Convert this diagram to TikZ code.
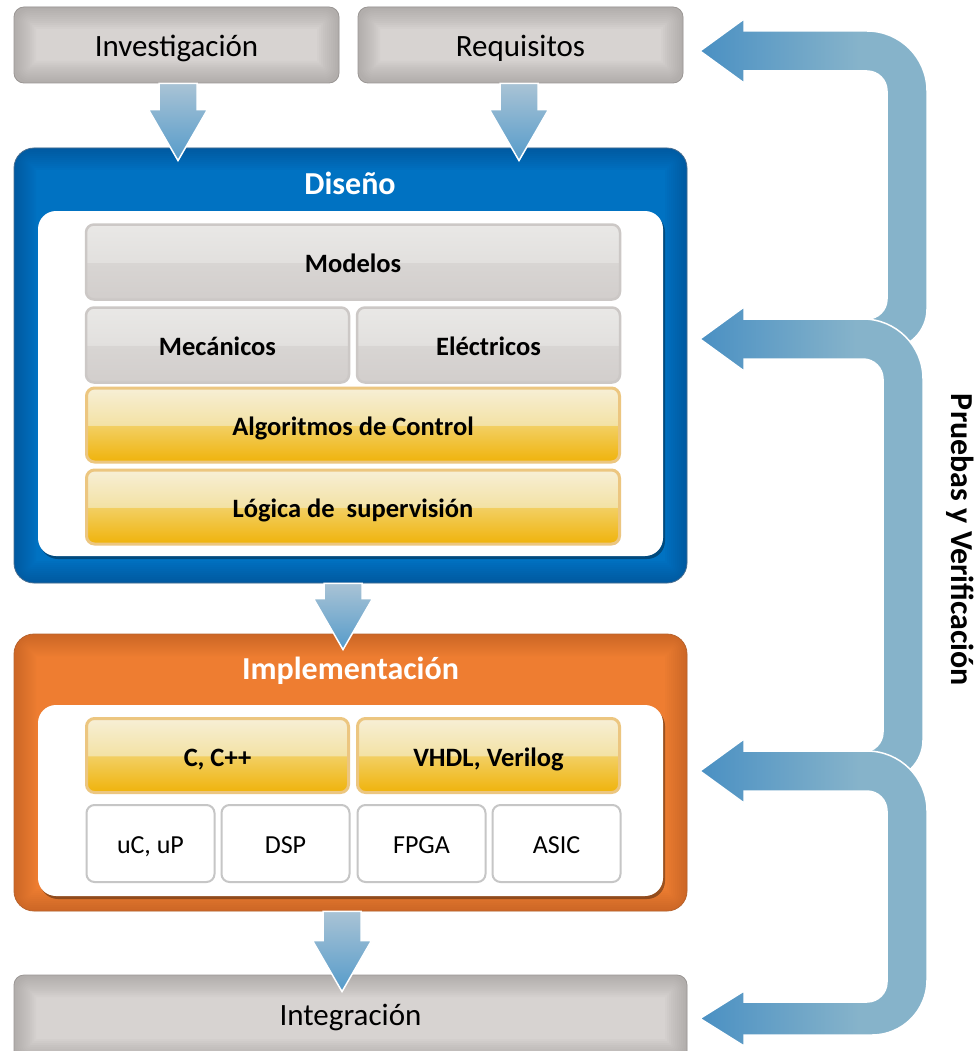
\documentclass[tikz,border=0pt]{standalone}
\usepackage{fontspec}
\setmainfont{Carlito}
\usetikzlibrary{shadows,calc}
\definecolor{topfill}{HTML}{D7D3D1}
\definecolor{topglow}{HTML}{7D7977}
\definecolor{topborder}{HTML}{9A9694}
\definecolor{bluefill}{HTML}{0072C2}
\definecolor{blueglow}{HTML}{003A75}
\definecolor{blueborder}{HTML}{4A6F90}
\definecolor{orfill}{HTML}{EE7D31}
\definecolor{orglow}{HTML}{A04A1A}
\definecolor{orborder}{HTML}{B8642E}
\definecolor{gT1}{HTML}{E9E8E6}
\definecolor{gT2}{HTML}{E2E0DE}
\definecolor{gB2}{HTML}{D8D5D3}
\definecolor{gB1}{HTML}{D2CECC}
\definecolor{gborder}{HTML}{CCC8C6}
\definecolor{yT1}{HTML}{F7EFD6}
\definecolor{yT2}{HTML}{F3E2A5}
\definecolor{yB2}{HTML}{F2CF62}
\definecolor{yB1}{HTML}{F0B30B}
\definecolor{yborder}{HTML}{ECC680}
\definecolor{chipborder}{HTML}{C6C6C6}
\definecolor{da1}{HTML}{A9C3D5}
\definecolor{da2}{HTML}{559BCA}
\definecolor{ra1}{HTML}{4A90C3}
\definecolor{ra2}{HTML}{86B3CA}
\pgfdeclareverticalshading{graygloss}{100bp}{color(0bp)=(gB1); color(25bp)=(gB1); color(49.5bp)=(gB2); color(50bp)=(gT2); color(75bp)=(gT1); color(100bp)=(gT1)}
\pgfdeclareverticalshading{yellowgloss}{100bp}{color(0bp)=(yB1); color(25bp)=(yB1); color(49.5bp)=(yB2); color(50bp)=(yT2); color(75bp)=(yT1); color(100bp)=(yT1)}
\pgfdeclarehorizontalshading{rightshade}{100bp}{color(0bp)=(ra1); color(25bp)=(ra1); color(60bp)=(ra2); color(100bp)=(ra2)}
\newcommand\blockdown[2]{%
  \draw[dnarrowst] let \p1=#1, \p2=#2 in
    (\x1-19pt,\y1) -- (\x1+19pt,\y1) -- (\x1+19pt,\y2+51pt) -- (\x1+29.5pt,\y2+51pt)
    -- (\x2,\y2) -- (\x1-29.5pt,\y2+51pt) -- (\x1-19pt,\y2+51pt) -- cycle;}
\begin{document}
\begin{tikzpicture}[x=1pt,y=-1pt,
  glow/.style={path picture={
    \foreach \w in {44pt,40pt,36pt,32pt,28pt,24pt,20pt,16pt,12pt,8pt,4pt}{
      \draw[draw=#1,line width=\w,opacity=0.04,rounded corners=16pt]
        (path picture bounding box.south west) rectangle (path picture bounding box.north east);}}},
  topbox/.style={draw=topborder,line width=0.8pt,fill=topfill,glow=topglow,rounded corners=10pt,
    inner sep=0pt,minimum width=325pt,minimum height=76pt,font=\fontsize{31}{36}\selectfont,
    text height=24pt,text depth=0pt},
  bigbox/.style={line width=0.8pt,rounded corners=20pt,inner sep=0pt,minimum width=673pt},
  whitebox/.style={fill=white,rounded corners=18pt,inner sep=0pt,minimum width=625pt,
    drop shadow={shadow xshift=2pt,shadow yshift=-3pt,opacity=0.35,fill=black}},
  titlef/.style={text=white,font=\bfseries\fontsize{32}{36}\selectfont,inner sep=0pt,
    text height=20.6pt,text depth=0pt},
  glossgray/.style={shading=graygloss,draw=gborder,line width=2.5pt,rounded corners=8pt,inner sep=0pt,
    minimum height=75pt,font=\bfseries\fontsize{26.5}{30}\selectfont,text height=20.5pt,text depth=0pt},
  glossyel/.style={shading=yellowgloss,draw=yborder,line width=3pt,rounded corners=8pt,inner sep=0pt,
    minimum height=74pt,font=\bfseries\fontsize{26.5}{30}\selectfont,text height=21.5pt,text depth=0pt},
  chip/.style={fill=white,draw=chipborder,line width=2pt,rounded corners=8pt,inner sep=0pt,
    minimum width=128pt,minimum height=77pt,font=\fontsize{26}{30}\selectfont,
    text height=19.8pt,text depth=0pt},
  dnarrowst/.style={top color=da1,bottom color=da2,draw=white,line width=1.5pt},
  rarrow/.style={shading=rightshade,draw=white,line width=1.5pt},
  sidelabel/.style={font=\bfseries\fontsize{32}{36}\selectfont,inner sep=0pt}
]
\useasboundingbox (0,0) rectangle (977,1051);
\clip (0,0) rectangle (977,1051);
\fill[white] (0,0) rectangle (977,1051);

% top boxes
\node[topbox] (inv) at (176.5,45) {Investigación};
\node[topbox] (req) at (520.5,45) {Requisitos};

% Diseño
\node[bigbox,draw=blueborder,fill=bluefill,glow=blueglow,minimum height=435pt] (dis) at (350.5,365.5) {};
\node[titlef] (distitle) at (350,184) {Diseño};
\node[whitebox,minimum height=345pt] (disin) at (350.5,383.5) {};
\node[glossgray,minimum width=534pt] (mod) at (353,262) {Modelos};
\node[glossgray,minimum width=263pt] (mec) at (217.5,345) {Mecánicos};
\node[glossgray,minimum width=263pt] (ele) at (488.5,345) {Eléctricos};
\node[glossyel,minimum width=533pt] (alg) at (353,425) {Algoritmos de Control};
\node[glossyel,minimum width=533pt] (log) at (353,507) {Lógica de~ supervisión};

% Implementación
\node[bigbox,draw=orborder,fill=orfill,glow=orglow,minimum height=277pt] (imp) at (350.5,772.5) {};
\node[titlef] (imptitle) at (350.5,669.5) {Implementación};
\node[whitebox,minimum height=191pt] (impin) at (350.5,800.5) {};
\node[glossyel,minimum width=262pt] (cpp) at (217.5,755.5) {C, C++};
\node[glossyel,minimum width=262pt] (vhdl) at (488.5,755.5) {VHDL, Verilog};
\node[chip] (uc) at (150.5,843.5) {uC, uP};
\node[chip] (dsp) at (285.5,843.5) {DSP};
\node[chip] (fpga) at (421.5,843.5) {FPGA};
\node[chip] (asic) at (556.5,843.5) {ASIC};

% Integración
\node[topbox,minimum width=673pt,minimum height=86pt,text height=14pt] (int) at (350.5,1018) {Integración};

% down arrows
\blockdown{([xshift=1.5pt]inv.south)}{([xshift=1.5pt,yshift=-13pt]inv.south |- dis.north)}
\blockdown{([xshift=-1.5pt]req.south)}{([xshift=-1.5pt,yshift=-13pt]req.south |- dis.north)}
\blockdown{([xshift=-7.5pt]dis.south)}{([xshift=-7.5pt,yshift=-16pt]dis.south |- imp.north)}
\blockdown{([xshift=-8.5pt]imp.south)}{([xshift=-8.5pt,yshift=-17pt]imp.south |- int.north)}

% right feedback arrows
\draw[rarrow] (700,51) -- (744,19) -- (744,31) -- (867,31) arc[start angle=-90,end angle=0,radius=60]
  -- (927,309) arc[start angle=0,end angle=90,radius=40] -- (867,349) -- (867,319)
  arc[start angle=90,end angle=0,radius=20] -- (887,91) arc[start angle=0,end angle=-90,radius=20]
  -- (744,71) -- (744,83) -- cycle;
\draw[rarrow] (700,339) -- (744,307) -- (744,319) -- (863,319) arc[start angle=-90,end angle=0,radius=60]
  -- (923,740) arc[start angle=0,end angle=90,radius=40] -- (863,780) -- (863,752)
  arc[start angle=90,end angle=0,radius=20] -- (883,379) arc[start angle=0,end angle=-90,radius=20]
  -- (744,359) -- (744,371) -- cycle;
\draw[rarrow] (700,771) -- (744,739) -- (744,751) -- (867,751) arc[start angle=-90,end angle=0,radius=60]
  -- (927,980) arc[start angle=0,end angle=90,radius=55] -- (744,1035) -- (744,1046) -- (700,1018.5)
  -- (744,991) -- (744,1002) -- (867,1002) arc[start angle=90,end angle=0,radius=20]
  -- (887,811) arc[start angle=0,end angle=-90,radius=20] -- (744,791) -- (744,803) -- cycle;

\node[sidelabel,rotate=-90,anchor=base] (pv) at (951,540) {Pruebas y Verificación};
\end{tikzpicture}
\end{document}
